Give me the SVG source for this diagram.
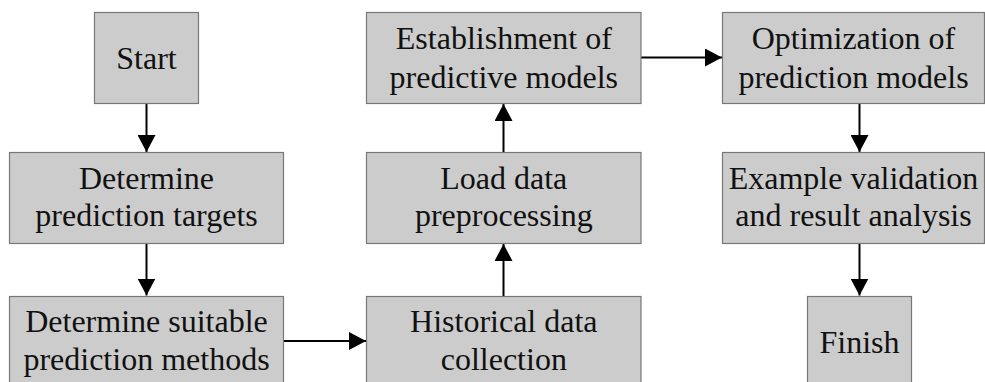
<svg xmlns="http://www.w3.org/2000/svg" width="985" height="382" viewBox="0 0 985 382">
<style>
.box{fill:#cccccc;stroke:#777777;stroke-width:1.2}
.t{font-family:"Liberation Serif","Times New Roman",serif;font-size:32px;fill:#111111;text-anchor:middle}
.c{stroke:#000000;stroke-width:2;fill:none;marker-end:url(#ah)}
</style>
<defs>
<marker id="ah" markerUnits="userSpaceOnUse" markerWidth="18" markerHeight="18" viewBox="0 0 18 18" refX="17" refY="9" orient="auto">
<path d="M0,0 L17,9 L0,18 Z" fill="#000000"/>
</marker>
</defs>
<rect width="985" height="382" fill="#ffffff"/>
<g id="connectors">
<line class="c" x1="146.5" y1="103.5" x2="146.5" y2="152"/>
<line class="c" x1="146.5" y1="243.5" x2="146.5" y2="295.5"/>
<line class="c" x1="284" y1="341" x2="366" y2="341"/>
<line class="c" x1="503.5" y1="296" x2="503.5" y2="244"/>
<line class="c" x1="503.5" y1="152.5" x2="503.5" y2="104"/>
<line class="c" x1="641" y1="57.5" x2="722" y2="57.5"/>
<line class="c" x1="859.5" y1="103.5" x2="859.5" y2="152"/>
<line class="c" x1="859.5" y1="243.5" x2="859.5" y2="295.5"/>
</g>
<g id="start">
<rect class="box" x="94.5" y="12.5" width="104" height="91"/>
<text class="t" x="146.5" y="68.5">Start</text>
</g>
<g id="targets">
<rect class="box" x="9.5" y="152.5" width="274" height="91"/>
<text class="t" x="146.5" y="188.5">Determine</text>
<text class="t" x="146.5" y="225.5">prediction targets</text>
</g>
<g id="methods">
<rect class="box" x="9.5" y="296.5" width="274" height="100"/>
<text class="t" x="146.5" y="332">Determine suitable</text>
<text class="t" x="146.5" y="370">prediction methods</text>
</g>
<g id="historical">
<rect class="box" x="366.5" y="296.5" width="274.5" height="100"/>
<text class="t" x="503.8" y="332">Historical data</text>
<text class="t" x="503.8" y="370">collection</text>
</g>
<g id="load">
<rect class="box" x="366.5" y="152.5" width="274.5" height="91"/>
<text class="t" x="503.8" y="188.5">Load data</text>
<text class="t" x="503.8" y="225.5">preprocessing</text>
</g>
<g id="establish">
<rect class="box" x="366.5" y="12.5" width="274.5" height="91"/>
<text class="t" x="503.8" y="48.5">Establishment of</text>
<text class="t" x="503.8" y="87.5">predictive models</text>
</g>
<g id="optimize">
<rect class="box" x="722.5" y="12.5" width="262" height="91"/>
<text class="t" x="853.5" y="48.5">Optimization of</text>
<text class="t" x="853.5" y="87.5">prediction models</text>
</g>
<g id="validation">
<rect class="box" x="722.5" y="152.5" width="262" height="91"/>
<text class="t" x="853.5" y="188.5">Example validation</text>
<text class="t" x="853.5" y="225.5">and result analysis</text>
</g>
<g id="finish">
<rect class="box" x="807.5" y="296.5" width="104" height="100"/>
<text class="t" x="859.5" y="352.5">Finish</text>
</g>
</svg>
